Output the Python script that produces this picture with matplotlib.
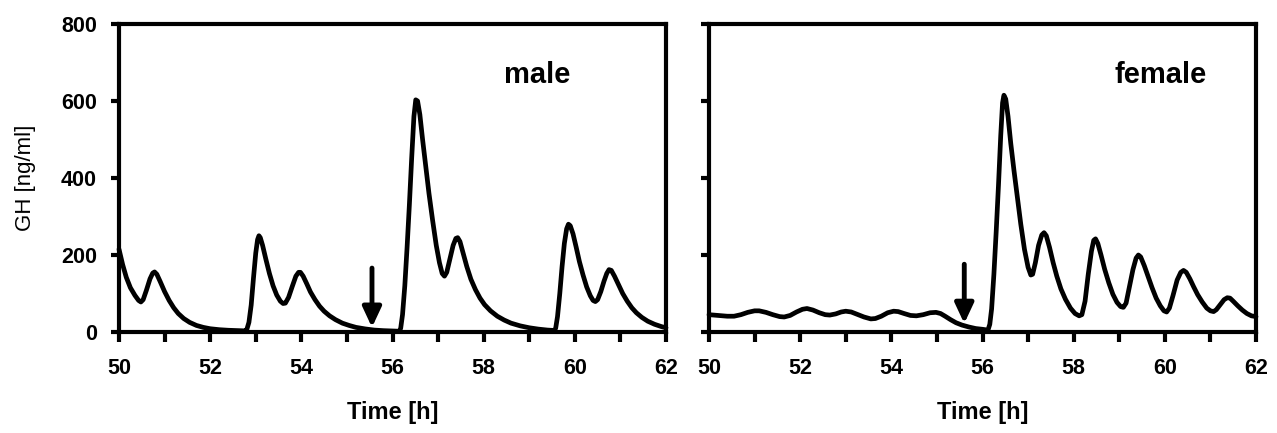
import matplotlib
matplotlib.use("Agg")
import matplotlib.pyplot as plt
from matplotlib.ticker import FuncFormatter

plt.rcParams['font.family'] = ['Liberation Sans', 'DejaVu Sans']

# ---- data ----
male_t = [50.0, 50.08, 50.16, 50.25, 50.35, 50.43, 50.48, 50.53, 50.6, 50.68, 50.74, 50.78,
          50.83, 50.9, 51.0, 51.1, 51.2, 51.3, 51.42, 51.55, 51.7, 51.85, 52.0, 52.2,
          52.4, 52.6, 52.75,
          52.8, 52.85, 52.9, 52.95, 53.0, 53.04, 53.07, 53.1, 53.15, 53.22, 53.3, 53.38,
          53.46, 53.54, 53.6, 53.65, 53.72, 53.8, 53.88, 53.94, 53.98, 54.04, 54.12, 54.2,
          54.3, 54.4, 54.5, 54.62, 54.75, 54.9, 55.05, 55.2, 55.4, 55.6, 55.8, 56.0, 56.15,
          56.18, 56.22, 56.27, 56.32, 56.37, 56.42, 56.47, 56.51, 56.55, 56.6, 56.66, 56.73,
          56.8, 56.88, 56.96, 57.03, 57.09, 57.14, 57.19, 57.26, 57.33, 57.39, 57.43, 57.48,
          57.55, 57.63, 57.72, 57.82, 57.92, 58.02, 58.15, 58.3, 58.45, 58.6, 58.8, 59.0,
          59.2, 59.4, 59.55,
          59.58, 59.62, 59.67, 59.72, 59.77, 59.82, 59.86, 59.9, 59.96, 60.03, 60.1, 60.18,
          60.26, 60.34, 60.4, 60.45, 60.5, 60.57, 60.64, 60.7, 60.75, 60.8, 60.87, 60.95,
          61.05, 61.15, 61.25, 61.35, 61.47, 61.6, 61.75, 61.9, 62.0]
male_v = [215, 175, 142, 115, 95, 82, 78, 84, 108, 138, 153, 156,
          150, 132, 105, 82, 63, 48, 35, 25, 17, 12, 8.5, 6,
          4.5, 3.5, 3,
          5, 25, 70, 140, 205, 240, 250, 245, 225, 190, 152, 120,
          96, 80, 74, 75, 90, 118, 145, 155, 155, 145, 125, 104,
          84, 67, 54, 42, 32, 23, 17, 12, 8, 5, 3.5, 2.5, 2,
          10, 45, 120, 220, 330, 450, 560, 603, 600, 565, 500, 430,
          360, 290, 225, 180, 152, 145, 155, 190, 225, 243, 245, 235,
          205, 170, 137, 110, 88, 71, 55, 41, 31, 23, 16, 11,
          7.5, 5, 4,
          10, 40, 100, 170, 230, 268, 280, 276, 255, 220, 183, 148,
          117, 94, 82, 79, 84, 105, 132, 152, 162, 160, 145, 125,
          100, 80, 63, 50, 38, 28, 20, 14, 11]

female_t = [50.0, 50.2, 50.4, 50.55, 50.7, 50.85, 51.0, 51.1, 51.25, 51.4, 51.55, 51.65,
            51.78, 51.92, 52.05, 52.15, 52.28, 52.42, 52.55, 52.65, 52.78, 52.9, 53.0, 53.12,
            53.25, 53.4, 53.55, 53.65, 53.78, 53.92, 54.05, 54.15, 54.28, 54.42, 54.55, 54.7,
            54.85, 54.98, 55.08, 55.18, 55.3, 55.42, 55.55, 55.7, 55.85, 56.0, 56.12,
            56.16, 56.2, 56.25, 56.3, 56.35, 56.4, 56.44, 56.47, 56.51, 56.56, 56.62, 56.69,
            56.76, 56.84, 56.92, 57.0, 57.06, 57.1, 57.16, 57.23, 57.3, 57.35, 57.4, 57.47,
            57.55, 57.63, 57.72, 57.82, 57.93, 58.03, 58.12, 58.18, 58.25, 58.32, 58.39, 58.44,
            58.48, 58.53, 58.6, 58.68, 58.77, 58.86, 58.95, 59.03, 59.09, 59.15, 59.22, 59.3,
            59.37, 59.42, 59.47, 59.55, 59.63, 59.72, 59.81, 59.9, 59.98, 60.04, 60.1, 60.18,
            60.27, 60.35, 60.41, 60.47, 60.55, 60.63, 60.72, 60.82, 60.92, 61.0, 61.07, 61.13,
            61.22, 61.3, 61.37, 61.43, 61.5, 61.6, 61.7, 61.8, 61.9, 62.0]
female_v = [45, 43, 41, 41, 45, 51, 55, 55, 51, 45, 40, 39,
            43, 52, 59, 61, 57, 50, 45, 44, 47, 52, 54, 52,
            46, 39, 34, 35, 41, 50, 54, 53, 48, 43, 42, 45,
            50, 51, 48, 41, 32, 24, 18, 13, 9, 7, 5,
            20, 60, 150, 260, 380, 510, 595, 615, 605, 560, 490, 420,
            355, 280, 215, 168, 148, 150, 180, 225, 252, 258, 250, 220,
            180, 145, 112, 85, 62, 48, 42, 45, 80, 150, 210, 238,
            242, 230, 200, 163, 128, 98, 77, 66, 64, 75, 115, 162,
            192, 200, 195, 172, 145, 115, 88, 68, 55, 52, 62, 95,
            135, 155, 160, 155, 138, 118, 97, 78, 62, 55, 53, 58,
            72, 84, 89, 88, 80, 68, 57, 48, 42, 40]

panel_titles = ["male", "female"]
arrow_times = [55.55, 55.6]
arrow_tops = [166, 176]
arrow_tips = [12, 22]

x_ticks = list(range(50, 63))
y_ticks = [0, 200, 400, 600, 800]

# ---- figure ----
W, H = 1277, 433
fig = plt.figure(figsize=(W / 100, H / 100), dpi=100)
ax1 = fig.add_axes([119 / W, 1 - 332 / H, 547 / W, 308 / H])
ax2 = fig.add_axes([709 / W, 1 - 332 / H, 547 / W, 308 / H])

title_x = [0.765, 0.825]
series = [(male_t, male_v), (female_t, female_v)]
for i, ax in enumerate([ax1, ax2]):
    t, v = series[i]
    ax.plot(t, v, color='black', lw=3.4, solid_joinstyle='round', solid_capstyle='round',
            clip_on=False, zorder=3)
    ax.set_xlim(50, 62)
    ax.set_ylim(0, 800)
    ax.set_xticks(x_ticks)
    ax.xaxis.set_major_formatter(FuncFormatter(lambda x, p: f"{int(round(x))}" if int(round(x)) % 2 == 0 else ""))
    ax.set_yticks(y_ticks)
    for s in ax.spines.values():
        s.set_linewidth(3.0)
    ax.tick_params(axis='x', direction='out', length=7, width=3, labelsize=15.5, pad=12)
    ax.tick_params(axis='y', direction='out', length=6, width=3, labelsize=15.5, pad=10)
    for lab in ax.get_xticklabels() + ax.get_yticklabels():
        lab.set_fontweight('bold')
    ax.set_xlabel("Time [h]", fontsize=17, fontweight='bold')
    ax.xaxis.set_label_coords(0.5, -0.225)
    ax.text(title_x[i], 0.835, panel_titles[i], transform=ax.transAxes,
            fontsize=21, fontweight='bold', ha='center', va='center')
    ax.annotate("", xy=(arrow_times[i], arrow_tips[i]), xytext=(arrow_times[i], arrow_tops[i]),
                arrowprops=dict(arrowstyle='-|>,head_length=0.6,head_width=0.28', lw=3.5,
                                color='black', shrinkA=0, shrinkB=0, mutation_scale=20),
                zorder=4)

ax1.set_ylabel("GH [ng/ml]", fontsize=16)
ax1.yaxis.set_label_coords(-0.152, 0.5)
ax2.tick_params(axis='y', labelleft=False)

fig.savefig("out.png", dpi=100)
